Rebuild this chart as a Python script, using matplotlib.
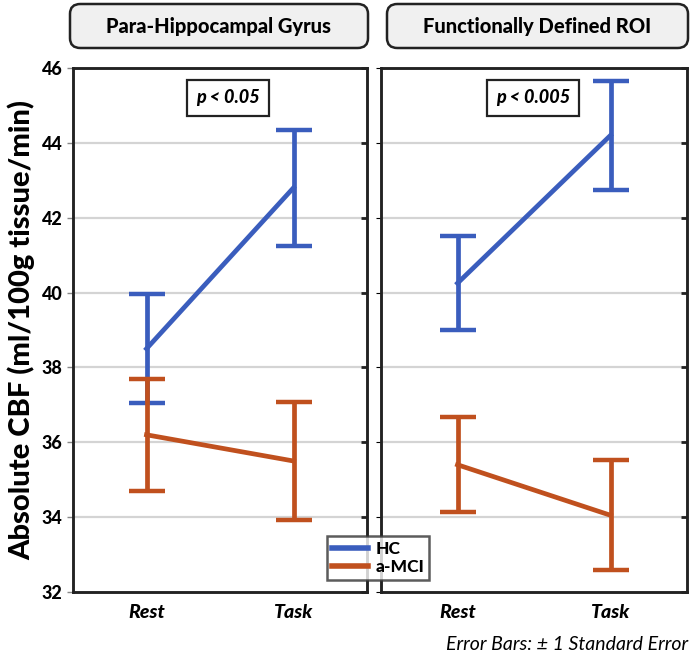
import matplotlib
matplotlib.use("Agg")
import matplotlib.pyplot as plt
from matplotlib.patches import FancyBboxPatch

plt.rcParams["font.family"] = ["Lato", "DejaVu Sans"]

conditions = ["Rest", "Task"]
panels = ["Para-Hippocampal Gyrus", "Functionally Defined ROI"]
p_labels = ["p < 0.05", "p < 0.005"]
groups = ["HC", "a-MCI"]

# means and standard errors per panel
hc_mean = [[38.5, 42.8], [40.25, 44.2]]
hc_se = [[1.45, 1.55], [1.25, 1.45]]
mci_mean = [[36.2, 35.5], [35.4, 34.05]]
mci_se = [[1.5, 1.58], [1.27, 1.47]]

colors = ["#3A5DBD", "#C0501E"]

fig = plt.figure(figsize=(6.92, 6.56), dpi=100)
W, H = 692, 656

ax_boxes = [(73, 367), (381, 687)]
title_boxes = [(70, 368), (387, 688)]
top_px, bot_px = 68, 592
p_box_x = [228, 533]

for i, (x0, x1) in enumerate(ax_boxes):
    ax = fig.add_axes([x0 / W, 1 - bot_px / H, (x1 - x0) / W, (bot_px - top_px) / H])
    xs = range(len(conditions))
    for j, (m, se) in enumerate([(hc_mean[i], hc_se[i]), (mci_mean[i], mci_se[i])]):
        ax.errorbar(xs, m, yerr=se, color=colors[j], lw=3.4, elinewidth=3.4,
                    capsize=13, capthick=3.2, label=groups[j], zorder=3)
    ax.set_xlim(-0.5, 1.5)
    ax.set_ylim(32, 46)
    ax.set_yticks(range(32, 47, 2))
    for y in range(34, 46, 2):
        ax.axhline(y, color="#d4d4d4", lw=1.6, zorder=1)
    ax.set_xticks(list(xs))
    ax.set_xticklabels(conditions, fontsize=14, fontweight="black", fontstyle="italic")
    ax.tick_params(axis="x", length=0, pad=9)
    if i == 0:
        ax.tick_params(axis="y", labelsize=13, length=4, width=1, color="#888888", direction="out")
        for lab in ax.get_yticklabels():
            lab.set_fontweight("black")
        ax.set_ylabel("Absolute CBF (ml/100g tissue/min)", fontsize=21, fontweight="black", labelpad=5)
    else:
        ax.tick_params(axis="y", labelleft=False, left=False)
    # short inward ticks on the right spine
    ax2 = ax.twinx()
    ax2.set_ylim(32, 46)
    ax2.set_yticks(range(32, 47, 2))
    ax2.tick_params(axis="y", direction="in", length=4, width=2, labelright=False, color="#222222")
    for a in (ax, ax2):
        for sp in a.spines.values():
            sp.set_linewidth(1.8)
            sp.set_color("#222222")

    # title box above panel
    tx0, tx1 = title_boxes[i]
    box = FancyBboxPatch((tx0 / W, 1 - 48 / H), (tx1 - tx0) / W, 44 / H,
                         boxstyle="round,pad=0,rounding_size=0.015",
                         transform=fig.transFigure, facecolor="#f0f0f0",
                         edgecolor="#222222", lw=1.8)
    fig.patches.append(box)
    fig.text((tx0 + tx1) / 2 / W, 1 - 26 / H, panels[i], ha="center", va="center",
             fontsize=14.5, fontweight="black")

    # significance box
    fig.text(p_box_x[i] / W, 1 - 98 / H, p_labels[i], ha="center", va="center",
             fontsize=13, fontweight="black", fontstyle="italic",
             bbox=dict(boxstyle="square,pad=0.5", facecolor="white", edgecolor="#222222", lw=1.6))

handles = [plt.Line2D([], [], color=c, lw=4) for c in colors]
leg = fig.legend(handles, groups, loc="center", bbox_to_anchor=(378 / W, 1 - 558 / H),
                 fontsize=12.5, frameon=True, fancybox=False, handlelength=2.1,
                 borderpad=0.3, labelspacing=0.1, handletextpad=0.4)
leg.get_frame().set_edgecolor("#333333")
leg.get_frame().set_linewidth(1.8)
for t in leg.get_texts():
    t.set_fontweight("black")

fig.text(688 / W, 1 - 645 / H, "Error Bars: \u00b1 1 Standard Error", ha="right", va="center",
         fontsize=14, fontstyle="italic")

fig.savefig("out.png", dpi=100)
